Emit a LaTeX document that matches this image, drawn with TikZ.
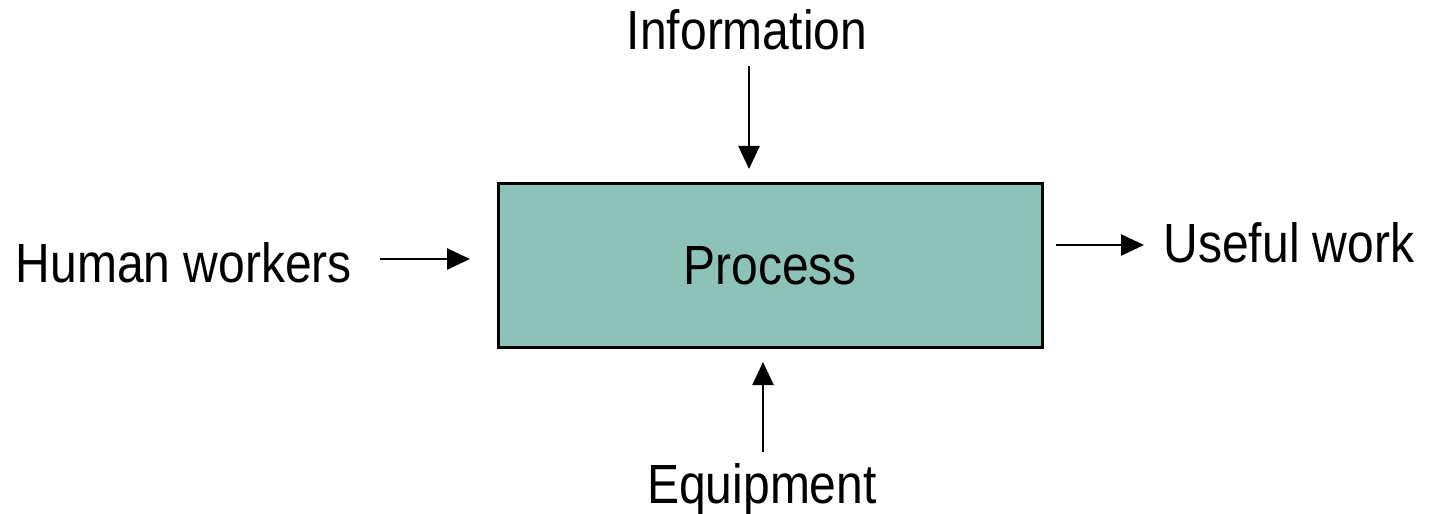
\documentclass[tikz,border=0pt]{standalone}
\usepackage{fontspec}
\setmainfont{Liberation Sans}
\usetikzlibrary{arrows.meta}
\newcommand{\tallword}[1]{\scalebox{1}[1.15]{#1}}
\definecolor{procfill}{RGB}{141,194,184}
\tikzset{
  label text/.style={anchor=base, inner sep=0pt, font=\fontsize{48bp}{58bp}\selectfont},
  flow/.style={line width=2.6bp, -{Triangle[length=23bp,width=21bp]}},
  procbox/.style={draw=black, line width=3bp, fill=procfill}
}
\begin{document}
\begin{tikzpicture}[x=1bp, y=-1bp]
  \useasboundingbox (0,0) rectangle (1429,514);

  % central process block
  \draw[procbox] (498,184) rectangle (1042,347);
  \node[label text] (proc) at (770,285) {\tallword{Process}};

  % labels round the block
  \node[label text] (info)  at (747,50)   {\tallword{Information}};
  \node[label text] (human) at (184,283)  {\tallword{Human workers}};
  \node[label text] (out)   at (1289,263) {\tallword{Useful work}};
  \node[label text] (equip) at (762,503)  {\tallword{Equipment}};

  % arrow ends
  \coordinate (infoS)  at (749,66);
  \coordinate (infoT)  at (749,169);
  \coordinate (humS)   at (380,259);
  \coordinate (humT)   at (470,259);
  \coordinate (outS)   at (1056,245);
  \coordinate (outT)   at (1144,245);
  \coordinate (eqS)    at (763,452);
  \coordinate (eqT)    at (763,362);

  \draw[flow] (infoS) -- (infoT);
  \draw[flow] (humS) -- (humT);
  \draw[flow] (outS) -- (outT);
  \draw[flow] (eqS) -- (eqT);
\end{tikzpicture}
\end{document}
